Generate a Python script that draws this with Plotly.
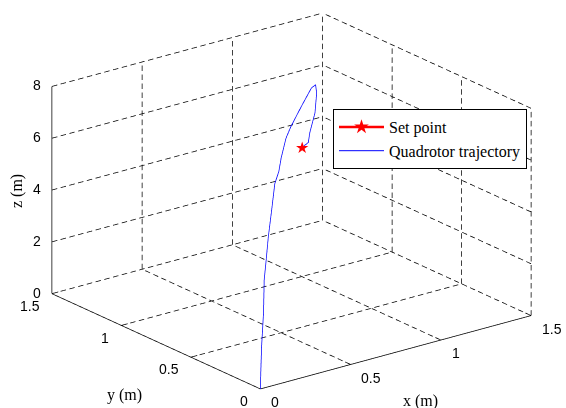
import plotly.graph_objects as go
import numpy as np

# ---- data ----
traj_x = [0.0, 0.012, 0.03, 0.076, 0.092, 0.139, 0.19, 0.27, 0.346, 0.446, 0.50, 0.617, 0.73, 0.878, 1.04, 1.23, 1.33, 1.356, 1.316, 1.19, 1.155, 0.986]
traj_y = [0.0, 0.012, 0.03, 0.076, 0.092, 0.139, 0.19, 0.27, 0.346, 0.446, 0.50, 0.617, 0.73, 0.878, 1.04, 1.23, 1.33, 1.356, 1.316, 1.19, 1.155, 0.986]
traj_z = [0.0, 0.71, 1.53, 2.62, 3.81, 4.37, 5.03, 5.71, 6.41, 6.47, 6.74, 7.0, 6.94, 6.76, 6.55, 6.28, 5.97, 5.54, 4.95, 4.72, 4.5, 5.02]
set_x = [1.0]
set_y = [1.0]
set_z = [5.0]

x_ticks = [0, 0.5, 1, 1.5]
y_ticks = [0, 0.5, 1, 1.5]
z_ticks = [0, 2, 4, 6, 8]
x_ticklabels = ["0", "0.5", "1", "1.5"]
y_ticklabels = ["0", "0.5", "1", "1.5"]
z_ticklabels = ["0", "2", "4", "6", "8"]

xmax, ymax, zmax = x_ticks[-1], y_ticks[-1], z_ticks[-1]

# approximate on-screen pixels per data unit (used only to size the dash pattern)
PX = np.array([181.1, -48.9])
PY = np.array([-139.5, -64.0])
PZ = np.array([0.0, -26.0])

def screen_len(p, q):
    d = np.array(q, float) - np.array(p, float)
    v = d[0] * PX + d[1] * PY + d[2] * PZ
    return float(np.hypot(*v))

# ---- dashed grid on back walls ----
gx, gy, gz = [], [], []
def dashed(p, q, period=9.0, on=5.5):
    p = np.array(p, float); q = np.array(q, float)
    L = screen_len(p, q)
    n = max(1, int(round(L / period)))
    step = 1.0 / n
    frac = on / period
    for i in range(n):
        a = p + (q - p) * (i * step)
        b = p + (q - p) * (i * step + step * frac)
        gx.extend([a[0], b[0], None]); gy.extend([a[1], b[1], None]); gz.extend([a[2], b[2], None])

for xv in x_ticks[1:]:
    dashed((xv, 0, 0), (xv, ymax, 0))
    dashed((xv, ymax, 0), (xv, ymax, zmax))
for yv in y_ticks[1:]:
    dashed((0, yv, 0), (xmax, yv, 0))
for yv in y_ticks[:-1]:
    dashed((xmax, yv, 0), (xmax, yv, zmax))
for zv in z_ticks[1:]:
    dashed((0, ymax, zv), (xmax, ymax, zv))
    dashed((xmax, 0, zv), (xmax, ymax, zv))

# solid axis lines + small tick marks
ax_x, ax_y, ax_z = [], [], []
def aseg(p, q):
    ax_x.extend([p[0], q[0], None]); ax_y.extend([p[1], q[1], None]); ax_z.extend([p[2], q[2], None])
aseg((0, 0, 0), (xmax, 0, 0))
aseg((0, 0, 0), (0, ymax, 0))
aseg((0, ymax, 0), (0, ymax, zmax))
for xv in x_ticks:
    aseg((xv, 0, 0), (xv, 0.04, 0))
for yv in y_ticks:
    aseg((0, yv, 0), (0.035, yv, 0))
for zv in z_ticks:
    aseg((0, ymax, zv), (0.03, ymax, zv))

fig = go.Figure()
fig.add_trace(go.Scatter3d(x=gx, y=gy, z=gz, mode="lines",
                           line=dict(color="black", width=1.5),
                           showlegend=False, hoverinfo="skip"))
fig.add_trace(go.Scatter3d(x=ax_x, y=ax_y, z=ax_z, mode="lines",
                           line=dict(color="black", width=1.5),
                           showlegend=False, hoverinfo="skip"))
fig.add_trace(go.Scatter3d(x=traj_x, y=traj_y, z=traj_z, mode="lines",
                           line=dict(color="#0000ff", width=1.5),
                           name="Quadrotor trajectory", showlegend=False))

# legend-only entries
fig.add_trace(go.Scatter(x=[None], y=[None], mode="lines+markers", name="Set point",
                         line=dict(color="#ff0000", width=2.5),
                         marker=dict(symbol="star", size=11, color="#ff0000"),
                         xaxis="x", yaxis="y"))
fig.add_trace(go.Scatter(x=[None], y=[None], mode="lines", name="Quadrotor trajectory",
                         line=dict(color="#0000ff", width=1),
                         xaxis="x", yaxis="y"))

d = 2.0
el = np.deg2rad(20.6)
az = np.deg2rad(37.6)
eye = dict(x=-d*np.cos(el)*np.sin(az), y=-d*np.cos(el)*np.cos(az), z=d*np.sin(el))

axis_common = dict(showgrid=False, zeroline=False, showbackground=False,
                   showline=False, ticks="", showticklabels=False,
                   title=dict(text=""), showspikes=False)

tick_font = dict(family="Liberation Sans", size=14, color="black")
scene_ann = []
for v, t in zip(x_ticks, x_ticklabels):
    scene_ann.append(dict(x=v, y=0, z=0, text=t, showarrow=False, xanchor="left",
                          yanchor="middle", xshift=9, yshift=-13, font=tick_font))
for v, t in zip(y_ticks, y_ticklabels):
    scene_ann.append(dict(x=0, y=v, z=0, text=t, showarrow=False, xanchor="right",
                          yanchor="middle", xshift=-10, yshift=-12, font=tick_font))
for v, t in zip(z_ticks, z_ticklabels):
    scene_ann.append(dict(x=0, y=ymax, z=v, text=t, showarrow=False, xanchor="right",
                          yanchor="middle", xshift=-9, yshift=1, font=tick_font))
for sx, sy, sz in zip(set_x, set_y, set_z):
    scene_ann.append(dict(x=sx, y=sy, z=sz, text="★", showarrow=False,
                          xanchor="center", yanchor="middle",
                          font=dict(color="#ff0000", size=16, family="DejaVu Sans")))

S = 1.7
title_font = dict(family="Liberation Serif", size=16, color="black")
fig.update_layout(
    width=566, height=408,
    margin=dict(l=0, r=0, t=0, b=0),
    paper_bgcolor="white", plot_bgcolor="white",
    xaxis=dict(visible=False), yaxis=dict(visible=False),
    scene=dict(
        domain=dict(x=[0.0294, 1.0], y=[0.014, 1.0]),
        aspectmode="manual", aspectratio=dict(x=S, y=S, z=0.648 * S),
        camera=dict(eye=eye, up=dict(x=0, y=0, z=1), center=dict(x=0, y=0, z=0),
                    projection=dict(type="orthographic")),
        xaxis=dict(range=[0, xmax], **axis_common),
        yaxis=dict(range=[0, ymax], **axis_common),
        zaxis=dict(range=[0, zmax], **axis_common),
        annotations=scene_ann,
    ),
    legend=dict(x=333/566, y=1-109/408, xanchor="left", yanchor="top",
                bgcolor="white", bordercolor="black", borderwidth=1,
                font=dict(family="Liberation Serif", size=16, color="black"),
                itemwidth=45, tracegroupgap=0),
    annotations=[
        dict(text="x (m)", x=420/566, y=1-401/408, xref="paper", yref="paper", showarrow=False,
             xanchor="center", yanchor="middle", font=title_font),
        dict(text="y (m)", x=124/566, y=1-395/408, xref="paper", yref="paper", showarrow=False,
             xanchor="center", yanchor="middle", font=title_font),
        dict(text="z (m)", x=17/566, y=1-191/408, xref="paper", yref="paper", showarrow=False,
             xanchor="center", yanchor="middle", textangle=-90, font=title_font),
    ],
)

fig.write_html("out.html", config=dict(displayModeBar=False))
